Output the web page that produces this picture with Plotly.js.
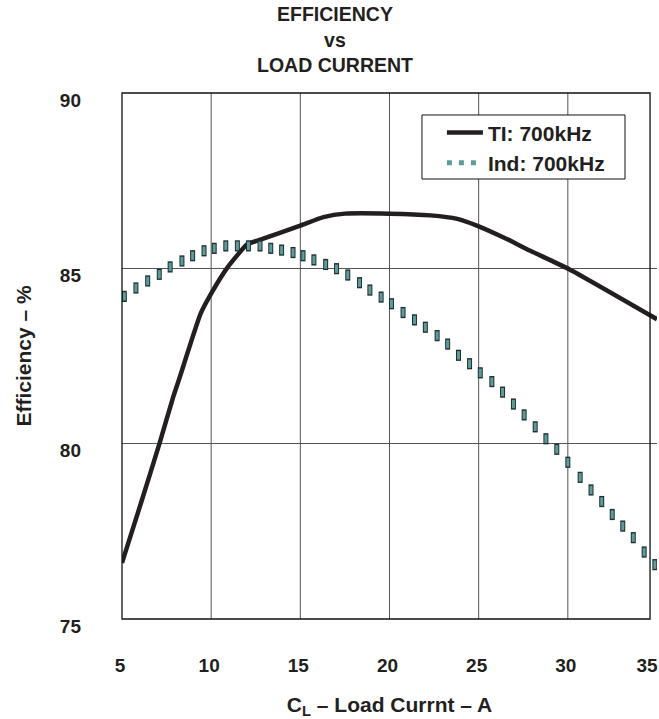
<!DOCTYPE html>
<html>
<head>
<meta charset="utf-8">
<script src="https://cdn.plot.ly/plotly-3.0.1.min.js"></script>
<style>
  html, body { margin: 0; padding: 0; background: #ffffff; }
  #chart { width: 659px; height: 719px; }
</style>
</head>
<body>
<div id="chart"></div>
<script>
// ---- data ----
const tiLabel = "TI: 700kHz";
const tiX = [5, 6.06, 7.1, 7.84, 8.21, 9.42, 10.08, 10.91, 12.03, 12.6, 15.0, 16.3, 17.5, 20, 22.3, 23.8, 24.9, 26.4, 27.9, 30.1, 35];
const tiY = [76.6, 78.3, 80.0, 81.28, 81.85, 83.72, 84.35, 85.02, 85.69, 85.79, 86.22, 86.46, 86.56, 86.56, 86.51, 86.41, 86.22, 85.88, 85.5, 84.97, 83.55];

const indLabel = "Ind: 700kHz";
const indX = [5.13, 5.78, 6.44, 7.09, 7.7, 8.36, 8.96, 9.6, 10.17, 10.82, 11.47, 12.09, 12.74, 13.34, 13.95, 14.59, 15.15, 15.76, 16.42, 17.03,
              17.66, 18.32, 18.9, 19.53, 20.11, 20.76, 21.4, 22.01, 22.67, 23.26, 23.87, 24.49, 25.09, 25.74, 26.34, 26.95, 27.55, 28.17,
              28.77, 29.38, 30.0, 30.69, 31.3, 31.9, 32.49, 33.08, 33.67, 34.28, 34.88];
const indY = [84.2, 84.44, 84.64, 84.83, 85.04, 85.21, 85.36, 85.5, 85.57, 85.64, 85.64, 85.64, 85.64, 85.57, 85.52, 85.45, 85.36, 85.24, 85.11, 84.99,
              84.81, 84.59, 84.38, 84.18, 83.99, 83.74, 83.53, 83.32, 83.08, 82.84, 82.52, 82.28, 82.02, 81.77, 81.47, 81.13, 80.82, 80.48,
              80.14, 79.84, 79.47, 79.04, 78.68, 78.35, 77.98, 77.65, 77.32, 76.91, 76.55];

const xTickVals = [5, 10, 15, 20, 25, 30, 35];
const xTickText = ["5", "10", "15", "20", "25", "30", "35\u00a0\u00a0\u00a0"];
const xGridVals = [10, 15, 20, 25, 30];
const yTickVals = [75, 80, 85, 90];
const yTickText = ["75", "80", "85", "90"];

const chartTitle = "EFFICIENCY<br>vs<br>LOAD CURRENT";
const xTitle = "C<sub>L</sub> – Load Currnt – A";
const yTitle = "Efficiency – %";

// ---- styles ----
const FONT = "Liberation Sans, Arial, Helvetica, sans-serif";
const INK = "#231f20";
const TEAL = "#5e9c9c";
const EDGE = "#1f2f30";
const GRID = "#555555";

const traces = [
  {
    x: tiX, y: tiY, name: tiLabel, type: "scatter", mode: "lines",
    line: { color: INK, width: 4.5, shape: "spline", smoothing: 0.5 },
    legendgroup: "a"
  },
  {
    x: indX, y: indY, name: indLabel, type: "scatter", mode: "markers",
    marker: { symbol: "line-ns", size: 8, line: { width: 5, color: EDGE } },
    showlegend: false, hoverinfo: "skip"
  },
  {
    x: indX, y: indY, name: indLabel, type: "scatter", mode: "markers",
    marker: { symbol: "line-ns", size: 6, line: { width: 3, color: TEAL } },
    showlegend: false
  },
  {
    x: [null], y: [null], name: indLabel, type: "scatter", mode: "lines",
    line: { color: TEAL, width: 5, dash: "5px,7px" },
    legendgroup: "b"
  }
];

const shapes = xGridVals.map(v => ({
  type: "line", xref: "x", yref: "paper", x0: v, x1: v, y0: 0, y1: 1,
  line: { color: GRID, width: 1 }, layer: "below"
}));
// plot frame (right edge sits slightly inside the plotting range, as in the reference)
shapes.push({
  type: "rect", xref: "paper", yref: "paper", x0: 0, x1: 0.987, y0: 0, y1: 1,
  line: { color: "#111111", width: 1.3 }, fillcolor: "rgba(0,0,0,0)", layer: "above"
});
// legend box
shapes.push({
  type: "rect", xref: "paper", yref: "paper", x0: 0.5607, x1: 0.9402, y0: 0.8365, y1: 0.9582,
  line: { color: "#111111", width: 1 }, fillcolor: "#ffffff", layer: "above"
});

const layout = {
  width: 659, height: 719,
  margin: { l: 122, r: 2, t: 93, b: 100 },
  paper_bgcolor: "#ffffff", plot_bgcolor: "#ffffff",
  font: { family: FONT, size: 19, color: INK },
  title: {
    text: "<b>" + chartTitle + "</b>",
    font: { family: FONT, size: 19.5, color: INK },
    x: 0.5083, xref: "container", xanchor: "center",
    y: 0.9705, yref: "container", yanchor: "middle"
  },
  xaxis: {
    range: [5, 35], tickvals: xTickVals, ticktext: xTickText,
    showgrid: false, zeroline: false, showline: false,
    ticks: "", ticklabelstandoff: 33, ticklabelshift: -2, ticklabeloverflow: "allow",
    tickfont: { family: FONT, size: 19, color: INK, weight: "bold" },
    title: { text: "<b>" + xTitle + "</b>", font: { family: FONT, size: 21, color: INK }, standoff: 27 }
  },
  yaxis: {
    range: [75, 90], tickvals: yTickVals, ticktext: yTickText,
    showgrid: true, gridcolor: GRID, gridwidth: 1,
    zeroline: false, showline: false,
    ticks: "", ticklabelstandoff: 40, ticklabelshift: 7, ticklabeloverflow: "allow",
    tickfont: { family: FONT, size: 19, color: INK, weight: "bold" },
    title: { text: "<b>" + yTitle + "</b>", font: { family: FONT, size: 21, color: INK }, standoff: 22 }
  },
  shapes: shapes,
  legend: {
    x: 0.598, xanchor: "left", y: 0.9633, yanchor: "top",
    bgcolor: "rgba(0,0,0,0)", borderwidth: 0,
    font: { family: FONT, size: 21, color: INK, weight: "bold" },
    tracegroupgap: 0, itemwidth: 36
  },
  showlegend: true
};

Plotly.newPlot("chart", traces, layout, { displayModeBar: false, staticPlot: true });
</script>
</body>
</html>
